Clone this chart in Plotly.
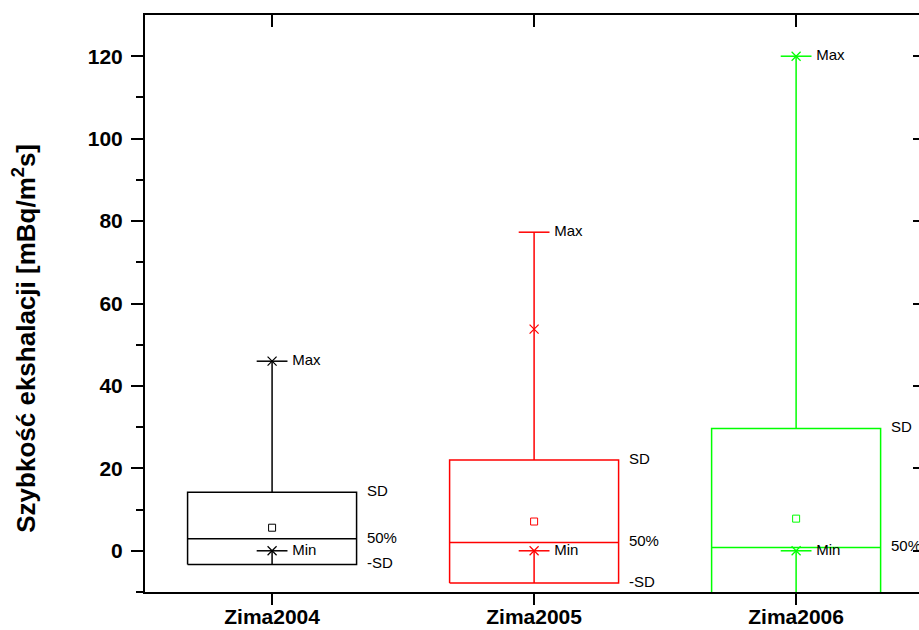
import plotly.graph_objects as go

categories = ["Zima2004", "Zima2005", "Zima2006"]
positions = [1, 2, 3]
colors = ["#000000", "#FF0000", "#00FF00"]
sd_upper = [14.2, 22.0, 29.7]
sd_lower = [-3.3, -7.8, -14.0]
median = [2.9, 2.0, 0.8]
mean = [5.6, 7.1, 7.8]
max_v = [46.0, 77.3, 120.0]
min_v = [0.0, 0.0, 0.0]
p99 = [46.0, 53.8, 120.0]
p1 = [0.0, 0.0, 0.0]
y_ticks = [0, 20, 40, 60, 80, 100, 120]

FONT = "Arial, Liberation Sans, sans-serif"
HW = 0.3225      # box half width (x units)
LBL_OFF = 0.077  # Max/Min label offset
SD_OFF = 0.362   # SD labels offset

fig = go.Figure()
for i, p in enumerate(positions):
    c = colors[i]
    fig.add_trace(go.Scatter(
        x=[p - HW, p + HW, p + HW, p - HW, p - HW],
        y=[sd_lower[i], sd_lower[i], sd_upper[i], sd_upper[i], sd_lower[i]],
        mode="lines", line=dict(color=c, width=1.5), hoverinfo="skip"))
    fig.add_trace(go.Scatter(x=[p - HW, p + HW], y=[median[i], median[i]],
                             mode="lines", line=dict(color=c, width=1.5), hoverinfo="skip"))
    fig.add_trace(go.Scatter(x=[p, p, None, p, p],
                             y=[sd_upper[i], max_v[i], None, sd_lower[i], min_v[i]],
                             mode="lines", line=dict(color=c, width=1.5), hoverinfo="skip"))
    fig.add_trace(go.Scatter(x=[p, p], y=[max_v[i], min_v[i]], mode="markers",
                             marker=dict(symbol="line-ew", size=22,
                                         line=dict(color=c, width=1.5)),
                             hoverinfo="skip"))
    fig.add_trace(go.Scatter(x=[p, p], y=[p99[i], p1[i]], mode="markers",
                             marker=dict(symbol="x-thin", size=9,
                                         line=dict(color=c, width=1.2)),
                             hoverinfo="skip"))
    fig.add_trace(go.Scatter(x=[p], y=[mean[i]], mode="markers",
                             marker=dict(symbol="square-open", size=7, color=c,
                                         line=dict(color=c, width=1)),
                             hoverinfo="skip"))
    fig.add_trace(go.Scatter(x=[p + LBL_OFF, p + LBL_OFF], y=[max_v[i], min_v[i]],
                             text=["Max", "Min"], mode="text", textposition="middle right",
                             textfont=dict(family=FONT, size=15, color="black"),
                             cliponaxis=True, hoverinfo="skip"))
    fig.add_trace(go.Scatter(x=[p + SD_OFF] * 3, y=[sd_upper[i], median[i], sd_lower[i]],
                             text=["SD", "50%", "-SD"], mode="text", textposition="middle right",
                             textfont=dict(family=FONT, size=15, color="black"),
                             cliponaxis=True, hoverinfo="skip"))

fig.add_trace(go.Scatter(x=[2], y=[50], xaxis="x2", yaxis="y2", mode="markers",
                         marker=dict(opacity=0), hoverinfo="skip"))

XR = [0.515, 3.469]
YR = [-10, 130]
fig.update_layout(
    width=919, height=630,
    margin=dict(l=145, r=0, t=15, b=38),
    paper_bgcolor="white", plot_bgcolor="white",
    showlegend=False,
    font=dict(family=FONT, color="black"),
    xaxis=dict(range=XR, tickvals=positions, ticktext=categories, automargin=False,
               ticks="outside", ticklen=11, tickwidth=2, tickcolor="black",
               showline=True, linewidth=2, linecolor="black",
               showgrid=False, zeroline=False, ticklabelstandoff=-6,
               tickfont=dict(family=FONT, size=21, color="black", weight="bold")),
    xaxis2=dict(range=XR, overlaying="x", side="top", tickvals=positions, automargin=False,
                ticks="inside", ticklen=12, tickwidth=2, tickcolor="black",
                showticklabels=False, showline=True, linewidth=2, linecolor="black",
                showgrid=False, zeroline=False),
    yaxis=dict(range=YR, tickvals=y_ticks, automargin=False,
               ticks="outside", ticklen=12, tickwidth=2, tickcolor="black",
               minor=dict(tickvals=[-10, 10, 30, 50, 70, 90, 110], ticks="outside",
                          ticklen=7, tickwidth=2, tickcolor="black"),
               showline=True, linewidth=2, linecolor="black",
               showgrid=False, zeroline=False, ticklabelstandoff=4,
               tickfont=dict(family=FONT, size=21, color="black", weight="bold")),
    yaxis2=dict(range=YR, overlaying="y", side="right", anchor="x", automargin=False,
                tickvals=y_ticks, ticks="inside", ticklen=6, tickwidth=2,
                tickcolor="black", showticklabels=False, showline=False,
                showgrid=False, zeroline=False),
    annotations=[dict(text="Szybkość ekshalacji [mBq/m<sup>2</sup>s]",
                      xref="paper", yref="paper", x=-0.155, y=0.439,
                      textangle=-90, showarrow=False, xanchor="center", yanchor="middle",
                      font=dict(family=FONT, size=26, color="black", weight="bold"))],
)

fig.write_html("out.html", post_script="document.body.style.margin='0';",
               config={"displayModeBar": False})
